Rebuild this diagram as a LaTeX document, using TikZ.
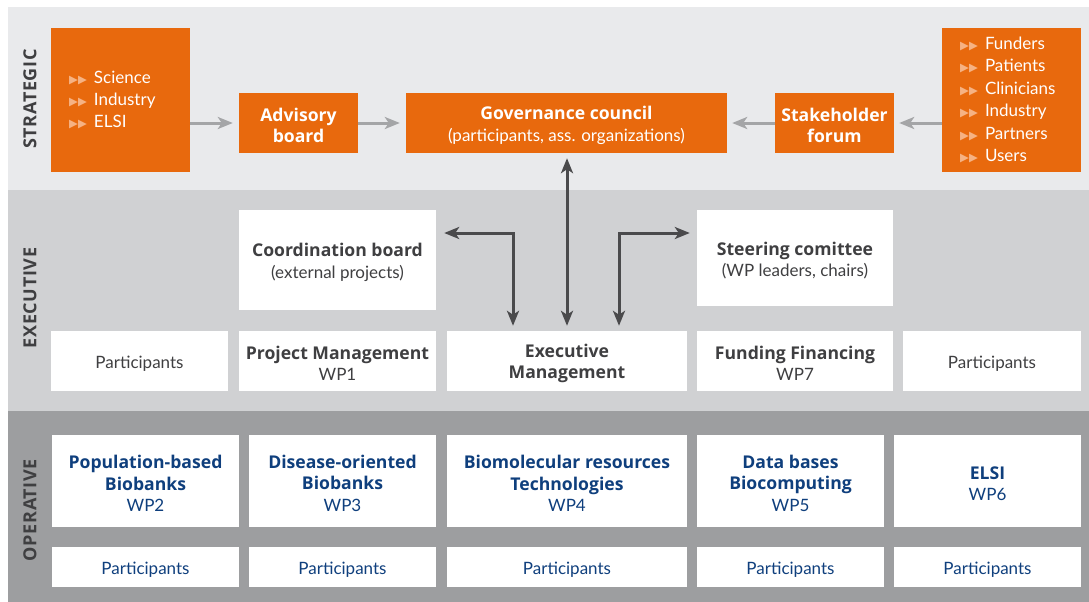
\documentclass[tikz,border=0pt]{standalone}
\usepackage{fontspec}
\setmainfont{Lato}[BoldFont={Open Sans Bold},BoldFeatures={Scale=1.035}]
\newfontfamily\symfont{DejaVu Sans}
\usetikzlibrary{arrows.meta,backgrounds,calc}
\definecolor{cBandA}{HTML}{E9EAEC}
\definecolor{cBandB}{HTML}{D0D1D3}
\definecolor{cBandC}{HTML}{9D9EA0}
\definecolor{cOrange}{HTML}{E8690D}
\definecolor{cBullet}{HTML}{F6B283}
\definecolor{cGArrow}{HTML}{A4A5A7}
\definecolor{cDArrow}{HTML}{4A4A4C}
\definecolor{cText}{HTML}{3F3F41}
\definecolor{cBlue}{HTML}{0F3F7D}
\newcommand\mysz{\fontsize{17}{21.5}\selectfont}
\newcommand\bul{{\symfont\fontsize{11.5}{11.5}\selectfont\color{cBullet}▶\kern0.3pt▶}\hspace{7pt}}
\newcommand\ts{\rule{0pt}{18pt}}
\begin{document}
\begin{tikzpicture}[x=1pt,y=-1pt,
  box/.style={rectangle, inner sep=0pt, align=center, font=\mysz},
  orangebox/.style={box, fill=cOrange, text=white},
  listbox/.style={orangebox, align=left, inner xsep=18pt, text width=103pt, minimum height=143pt, font={\fontsize{17}{22.4}\selectfont}},
  whitebox/.style={box, fill=white, text=cText},
  opbox/.style={box, fill=white, text=cBlue},
  oneline/.style={text height=14.6pt, text depth=0pt},
  garrow/.style={draw=cGArrow, line width=3pt, -{Stealth[length=15pt,width=12pt,inset=4pt]}},
  darrow/.style={draw=cDArrow, line width=3pt, {Stealth[length=15pt,width=12pt,inset=4pt]}-{Stealth[length=15pt,width=12pt,inset=4pt]}},
  tree/.style={draw=white, line width=3pt},
  sidelabel/.style={rotate=90, text=cText, font={\fontsize{17.4}{18}\selectfont\bfseries\addfontfeature{LetterSpace=3.5}}}
]
% background and bands
\fill[white] (0,0) rectangle (1089,602);
\fill[cBandA] (8,7) rectangle (1089,190);
\fill[cBandB] (8,190) rectangle (1089,411);
\fill[cBandC] (8,411) rectangle (1089,602);

% side labels
\node[sidelabel] (lblS) at (30,99) {STRATEGIC};
\node[sidelabel] (lblE) at (30,298) {EXECUTIVE};
\node[sidelabel] (lblO) at (30,510) {OPERATIVE};

% strategic
\node[listbox] (lorg) at (120.5,100) {\bul Science\\\bul Industry\\\bul ELSI};
\node[orangebox, minimum width=119pt, minimum height=60pt] (adv) at (298.5,123) {\ts\textbf{Advisory}\\\textbf{board}};
\node[orangebox, minimum width=321pt, minimum height=60pt] (gov) at (566.5,123) {\ts\textbf{Governance council}\\(participants, ass. organizations)};
\node[orangebox, minimum width=119pt, minimum height=60pt] (stk) at (834.5,123) {\ts\textbf{Stakeholder}\\\textbf{forum}};
\node[listbox] (rorg) at (1011.5,100) {\bul Funders\\\bul Patients\\\bul Clinicians\\\bul Industry\\\bul Partners\\\bul Users};

% executive
\node[whitebox, minimum width=197pt, minimum height=100pt] (coord) at (337.5,260) {\ts\textbf{Coordination board}\\(external projects)};
\node[whitebox, minimum width=196pt, minimum height=96pt] (steer) at (795,258) {\ts\textbf{Steering comittee}\\(WP leaders, chairs)};
\node[whitebox, oneline, minimum width=177pt, minimum height=60pt] (partL) at (139.5,361) {Participants};
\node[whitebox, minimum width=197pt, minimum height=60pt] (wp1) at (337.5,361) {\ts\textbf{Project Management}\\WP1};
\node[whitebox, minimum width=240pt, minimum height=60pt] (exec) at (567,361) {\ts\textbf{Executive}\\\textbf{Management}};
\node[whitebox, minimum width=196pt, minimum height=60pt] (wp7) at (795,361) {\ts\textbf{Funding Financing}\\WP7};
\node[whitebox, oneline, minimum width=178pt, minimum height=60pt] (partR) at (992,361) {Participants};

% operative
\node[opbox, minimum width=187pt, minimum height=92pt] (wp2) at (145.5,481) {\ts\textbf{Population-based}\\\textbf{Biobanks}\\WP2};
\node[opbox, minimum width=187pt, minimum height=92pt] (wp3) at (342.5,481) {\ts\textbf{Disease-oriented}\\\textbf{Biobanks}\\WP3};
\node[opbox, minimum width=240pt, minimum height=92pt] (wp4) at (567,481) {\ts\textbf{Biomolecular resources}\\\textbf{Technologies}\\WP4};
\node[opbox, minimum width=187pt, minimum height=92pt] (wp5) at (790.5,481) {\ts\textbf{Data bases}\\\textbf{Biocomputing}\\WP5};
\node[opbox, minimum width=187pt, minimum height=92pt] (wp6) at (987.5,481) {\ts\textbf{ELSI}\\WP6};
\node[opbox, oneline, minimum width=187pt, minimum height=40pt] (p2) at (145.5,567) {Participants};
\node[opbox, oneline, minimum width=187pt, minimum height=40pt] (p3) at (342.5,567) {Participants};
\node[opbox, oneline, minimum width=240pt, minimum height=40pt] (p4) at (567,567) {Participants};
\node[opbox, oneline, minimum width=187pt, minimum height=40pt] (p5) at (790.5,567) {Participants};
\node[opbox, oneline, minimum width=187pt, minimum height=40pt] (p6) at (987.5,567) {Participants};

% white connectors behind boxes
\begin{scope}[on background layer]
\draw[tree] (partL.east) -- (partR.west);
\coordinate (bus) at (567,412.5);
\draw[tree] (exec.south) -- (exec.south |- bus);
\draw[tree] (wp2.north |- bus) -- (wp6.north |- bus);
\foreach \n in {2,...,6}{
  \draw[tree] (wp\n.north |- bus) -- (wp\n.north);
  \draw[tree] (wp\n.south) -- (p\n.north);
}
\end{scope}

% strategic arrows
\draw[garrow, shorten >=6pt] (lorg.east |- adv.west) -- (adv.west);
\draw[garrow, shorten >=6pt] (adv.east) -- (gov.west);
\draw[garrow, shorten >=5pt] (stk.west) -- (gov.east);
\draw[garrow, shorten >=5pt] (rorg.west |- stk.east) -- (stk.east);

% executive arrows
\draw[darrow, shorten <=5pt, shorten >=5pt] (exec.north |- gov.south) -- (exec.north);
\coordinate (eL) at (513,233);
\coordinate (eR) at (619,233);
\draw[darrow, shorten <=8pt, shorten >=5pt] (coord.east |- eL) -- (eL) -- (eL |- exec.north);
\draw[darrow, shorten <=7pt, shorten >=5pt] (steer.west |- eR) -- (eR) -- (eR |- exec.north);
\end{tikzpicture}
\end{document}
